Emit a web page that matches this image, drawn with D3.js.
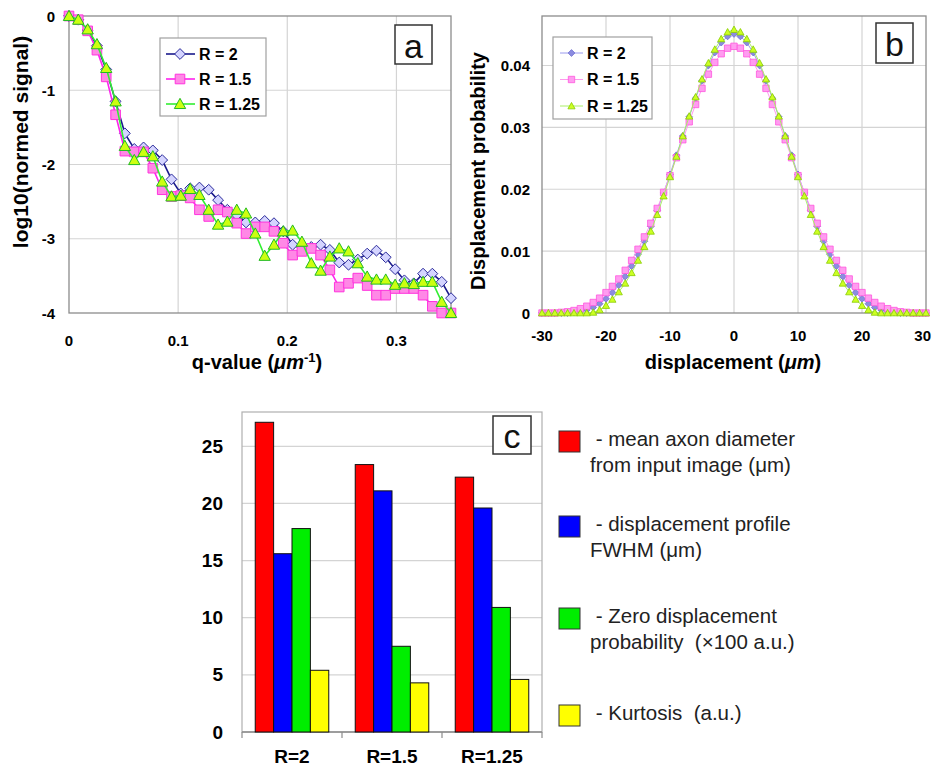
<!DOCTYPE html>
<html>
<head>
<meta charset="utf-8">
<script src="https://cdn.jsdelivr.net/npm/d3@7"></script>
<style>
	body { margin:0; background:#fff; }
	svg { font-family: "Liberation Sans", Arial, sans-serif; }
</style>
</head>
<body>
<div id="chart"></div>
<script>

// ---- panel a : log10 signal vs q ----
var qValues = [0, 0.0085, 0.0171, 0.0256, 0.0341, 0.0427, 0.0512, 0.0598, 0.0683, 0.0768,
	0.0854, 0.0939, 0.1024, 0.1110, 0.1195, 0.1280, 0.1366, 0.1451, 0.1537, 0.1622,
	0.1707, 0.1793, 0.1878, 0.1963, 0.2049, 0.2134, 0.2220, 0.2305, 0.2390, 0.2476,
	0.2561, 0.2646, 0.2732, 0.2817, 0.2902, 0.2988, 0.3073, 0.3159, 0.3244, 0.3329,
	0.3415, 0.3500];
var signalR2 = [0, -0.05, -0.19, -0.40, -0.72, -1.15, -1.58, -1.79, -1.77, -1.81,
	-1.94, -2.20, -2.39, -2.32, -2.31, -2.34, -2.48, -2.61, -2.68, -2.78,
	-2.78, -2.76, -2.79, -2.90, -3.08, -3.11, -3.11, -3.08, -3.15, -3.32,
	-3.35, -3.28, -3.20, -3.16, -3.25, -3.41, -3.56, -3.60, -3.47, -3.47,
	-3.58, -3.80];
var signalR15 = [0, -0.05, -0.20, -0.46, -0.82, -1.33, -1.82, -1.83, -1.83, -2.05,
	-2.34, -2.43, -2.42, -2.45, -2.61, -2.70, -2.61, -2.64, -2.79, -2.93,
	-2.84, -2.84, -2.90, -3.06, -3.22, -3.17, -3.13, -3.22, -3.42, -3.65,
	-3.60, -3.53, -3.63, -3.76, -3.76, -3.67, -3.67, -3.67, -3.76, -3.91,
	-4.00, -4.00];
var signalR125 = [0, -0.05, -0.18, -0.38, -0.70, -1.15, -1.75, -1.94, -1.83, -1.89,
	-2.23, -2.43, -2.42, -2.33, -2.41, -2.61, -2.81, -2.77, -2.61, -2.66,
	-2.93, -3.23, -3.08, -2.90, -2.89, -3.04, -3.33, -3.43, -3.24, -3.13,
	-3.17, -3.33, -3.51, -3.55, -3.55, -3.62, -3.60, -3.61, -3.58, -3.58,
	-3.85, -4.00];
var qTicks = [0, 0.1, 0.2, 0.3];
var signalTicks = [0, -1, -2, -3, -4];

// ---- panel b : displacement profiles ----
var dispValues = [-30, -29, -28, -27, -26, -25, -24, -23, -22, -21, -20, -19, -18, -17, -16, -15,
	-14, -13, -12, -11, -10, -9, -8, -7, -6, -5, -4, -3, -2, -1, 0, 1, 2, 3, 4, 5, 6, 7, 8, 9,
	10, 11, 12, 13, 14, 15, 16, 17, 18, 19, 20, 21, 22, 23, 24, 25, 26, 27, 28, 29, 30];
var probR2 = [0, 0, 0, 0, 0, 0.0001, 0.0003, 0.0005, 0.0009, 0.0015, 0.0023, 0.0033, 0.0045, 0.0059, 0.0076, 0.0095,
	0.0116, 0.0140, 0.0166, 0.0194, 0.0224, 0.0255, 0.0286, 0.0317, 0.0347, 0.0375, 0.0400, 0.0421, 0.0437, 0.0447,
	0.0451,
	0.0447, 0.0437, 0.0421, 0.0400, 0.0375, 0.0347, 0.0317, 0.0286, 0.0255, 0.0224, 0.0194, 0.0166, 0.0140, 0.0116,
	0.0095, 0.0076, 0.0059, 0.0045, 0.0033, 0.0023, 0.0015, 0.0009, 0.0005, 0.0003, 0.0001, 0, 0, 0, 0, 0];
var probR15 = [0, 0, 0, 0.0001, 0.0002, 0.0004, 0.0007, 0.0011, 0.0017, 0.0024, 0.0033, 0.0043, 0.0055, 0.0069, 0.0085, 0.0103,
	0.0123, 0.0145, 0.0169, 0.0195, 0.0222, 0.0251, 0.0280, 0.0309, 0.0337, 0.0363, 0.0386, 0.0405, 0.0419, 0.0428,
	0.0431,
	0.0428, 0.0419, 0.0405, 0.0386, 0.0363, 0.0337, 0.0309, 0.0280, 0.0251, 0.0222, 0.0195, 0.0169, 0.0145, 0.0123,
	0.0103, 0.0085, 0.0069, 0.0055, 0.0043, 0.0033, 0.0024, 0.0017, 0.0011, 0.0007, 0.0004, 0.0002, 0.0001, 0, 0, 0];
var probR125 = [0, 0, 0, 0, 0, 0, 0, 0, 0.0001, 0.0005, 0.0012, 0.0022, 0.0034, 0.0048, 0.0065, 0.0085,
	0.0107, 0.0132, 0.0159, 0.0189, 0.0220, 0.0253, 0.0286, 0.0318, 0.0349, 0.0378, 0.0404, 0.0426, 0.0443, 0.0454,
	0.0458,
	0.0454, 0.0443, 0.0426, 0.0404, 0.0378, 0.0349, 0.0318, 0.0286, 0.0253, 0.0220, 0.0189, 0.0159, 0.0132, 0.0107,
	0.0085, 0.0065, 0.0048, 0.0034, 0.0022, 0.0012, 0.0005, 0.0001, 0, 0, 0, 0, 0, 0, 0, 0];
var dispTicks = [-30, -20, -10, 0, 10, 20, 30];
var probTicks = [0, 0.01, 0.02, 0.03, 0.04];

// ---- panel c : bar chart ----
var categories = ["R=2", "R=1.5", "R=1.25"];
var measureNames = ["axon", "fwhm", "zero", "kurt"];
var axonDiameter = [27.1, 23.4, 22.3];
var profileFWHM = [15.6, 21.1, 19.6];
var zeroDispProb = [17.8, 7.5, 10.9];
var kurtosis = [5.4, 4.3, 4.6];
var barTicks = [0, 5, 10, 15, 20, 25];
var legendLines = [
	[" - mean axon diameter", "from input image (\u03bcm)"],
	[" - displacement profile", "FWHM (\u03bcm)"],
	[" - Zero displacement", "probability  (\u00d7100 a.u.)"],
	[" - Kurtosis  (a.u.)"]
];
var seriesNames = ["R = 2", "R = 1.5", "R = 1.25"];


var svg = d3.select("#chart").append("svg")
	.attr("width", 932)
	.attr("height", 768);

var gridColor = "#d4d4d4";
var frameColor = "#8c8c8c";

function markerPath(kind, s){
	if(kind == "diamond"){
		return "M0," + (-s) + "L" + s + ",0L0," + s + "L" + (-s) + ",0Z";
	} else if(kind == "square"){
		return "M" + (-s) + "," + (-s) + "h" + (2*s) + "v" + (2*s) + "h" + (-2*s) + "Z";
	}
	var h = s * 1.05;
	return "M0," + (-h) + "L" + (s*1.05) + "," + (h*0.8) + "L" + (-s*1.05) + "," + (h*0.8) + "Z";
}

function drawFrame(g, x, y, xTicks, yTicks, left, right, top, bottom){
	g.append("g").selectAll("line.vg").data(xTicks).enter().append("line")
		.attr("x1", function(d){ return x(d); }).attr("x2", function(d){ return x(d); })
		.attr("y1", top).attr("y2", bottom)
		.attr("stroke", gridColor).attr("stroke-width", 1.2);
	g.append("g").selectAll("line.hg").data(yTicks).enter().append("line")
		.attr("x1", left).attr("x2", right)
		.attr("y1", function(d){ return y(d); }).attr("y2", function(d){ return y(d); })
		.attr("stroke", gridColor).attr("stroke-width", 1.2);
	g.append("rect")
		.attr("x", left).attr("y", top)
		.attr("width", right - left).attr("height", bottom - top)
		.attr("fill", "none").attr("stroke", frameColor).attr("stroke-width", 1.3);
}

function labelBox(x0, y0, w, h, txt){
	svg.append("rect").attr("x", x0).attr("y", y0).attr("width", w).attr("height", h)
		.attr("fill", "#fff").attr("stroke", "#333").attr("stroke-width", 1.5);
	svg.append("text").attr("x", x0 + w/2).attr("y", y0 + h/2 + 1)
		.attr("text-anchor", "middle").attr("dominant-baseline", "central")
		.attr("font-size", 34).attr("fill", "#111").text(txt);
}


// ================= panel a =================
var ax = d3.scaleLinear().domain([0, 0.35]).range([69, 451]);
var ay = d3.scaleLinear().domain([0, -4]).range([16, 313]);
var ga = svg.append("g");
drawFrame(ga, ax, ay, [0.1, 0.2, 0.3], [-1, -2, -3], 69, 451, 16, 313);

ga.append("g").selectAll("text").data(qTicks).enter().append("text")
	.attr("x", function(d){ return ax(d); }).attr("y", 346)
	.attr("text-anchor", "middle").attr("font-size", 15).attr("font-weight", "bold")
	.text(function(d){ return d; });
ga.append("g").selectAll("text").data(signalTicks).enter().append("text")
	.attr("x", 55).attr("y", function(d){ return ay(d); })
	.attr("text-anchor", "end").attr("dominant-baseline", "central")
	.attr("font-size", 15).attr("font-weight", "bold")
	.text(function(d){ return d; });

var qTitle = ga.append("text").attr("x", 257).attr("y", 369)
	.attr("text-anchor", "middle").attr("font-size", 20).attr("font-weight", "bold");
qTitle.append("tspan").text("q-value (");
qTitle.append("tspan").attr("font-style", "italic").text("\u03bcm");
qTitle.append("tspan").attr("font-size", 13).attr("dy", -7).text("-1");
qTitle.append("tspan").attr("dy", 7).text(")");

ga.append("text").attr("transform", "translate(28,142) rotate(-90)")
	.attr("text-anchor", "middle").attr("font-size", 21).attr("font-weight", "bold")
	.text("log10(normed signal)");

var aSeries = [
	{ vals: signalR2, line: "#1a1a8c", fill: "#d4d4ff", stroke: "#2a2a9a", kind: "diamond", s: 5.4 },
	{ vals: signalR15, line: "#ff22ee", fill: "#ff88e6", stroke: "#ff33dd", kind: "square", s: 4.8 },
	{ vals: signalR125, line: "#33ee33", fill: "#ccff11", stroke: "#22bb22", kind: "triangle", s: 5.4 }
];

aSeries.forEach(function(ser){
	var line = d3.line()
		.x(function(d, i){ return ax(qValues[i]); })
		.y(function(d){ return ay(d); });
	ga.append("path").datum(ser.vals)
		.attr("d", line).attr("fill", "none")
		.attr("stroke", ser.line).attr("stroke-width", 1.6);
	ga.append("g").selectAll("path").data(ser.vals).enter().append("path")
		.attr("transform", function(d, i){ return "translate(" + ax(qValues[i]) + "," + ay(d) + ")"; })
		.attr("d", markerPath(ser.kind, ser.s))
		.attr("fill", ser.fill).attr("stroke", ser.stroke).attr("stroke-width", 1);
});

// legend a
svg.append("rect").attr("x", 160).attr("y", 38).attr("width", 106).attr("height", 78)
	.attr("fill", "#fff").attr("stroke", "#a0a0a0").attr("stroke-width", 1.2);
aSeries.forEach(function(ser, i){
	var yy = 54 + i * 25;
	svg.append("line").attr("x1", 166).attr("x2", 195).attr("y1", yy).attr("y2", yy)
		.attr("stroke", ser.line).attr("stroke-width", 1.6);
	svg.append("path").attr("transform", "translate(180," + yy + ")")
		.attr("d", markerPath(ser.kind, ser.s))
		.attr("fill", ser.fill).attr("stroke", ser.stroke).attr("stroke-width", 1);
	svg.append("text").attr("x", 199).attr("y", yy).attr("dominant-baseline", "central")
		.attr("font-size", 16).attr("font-weight", "bold").text(seriesNames[i]);
});
labelBox(395, 25, 37, 39, "a");


// ================= panel b =================
var bx = d3.scaleLinear().domain([-30, 30]).range([542, 926]);
var by = d3.scaleLinear().domain([0, 0.048]).range([313, 16]);
var gb = svg.append("g");
drawFrame(gb, bx, by, [-20, -10, 0, 10, 20], [0.01, 0.02, 0.03, 0.04], 542, 926, 16, 313);

// last label sits at the window edge, so it is pulled in a little
gb.append("g").selectAll("text").data(dispTicks).enter().append("text")
	.attr("x", function(d, i){ return i == dispTicks.length - 1 ? 931 : bx(d); }).attr("y", 341)
	.attr("text-anchor", function(d, i){ return i == dispTicks.length - 1 ? "end" : "middle"; })
	.attr("font-size", 15).attr("font-weight", "bold")
	.text(function(d){ return d; });
gb.append("g").selectAll("text").data(probTicks).enter().append("text")
	.attr("x", 530).attr("y", function(d){ return by(d); })
	.attr("text-anchor", "end").attr("dominant-baseline", "central")
	.attr("font-size", 15).attr("font-weight", "bold")
	.text(function(d){ return d; });

var dTitle = gb.append("text").attr("x", 733).attr("y", 369)
	.attr("text-anchor", "middle").attr("font-size", 20).attr("font-weight", "bold");
dTitle.append("tspan").text("displacement (");
dTitle.append("tspan").attr("font-style", "italic").text("\u03bcm");
dTitle.append("tspan").text(")");

gb.append("text").attr("transform", "translate(485,171) rotate(-90)")
	.attr("text-anchor", "middle").attr("font-size", 20).attr("font-weight", "bold")
	.text("Displacement probability");

var bSeries = [
	{ vals: probR2, line: "#9a9aee", fill: "#8c8ce0", stroke: "#6e6ed0", kind: "diamond", s: 3.4 },
	{ vals: probR15, line: "#ff99ee", fill: "#ff9cf0", stroke: "#ff55dd", kind: "square", s: 3.2 },
	{ vals: probR125, line: "#aaee66", fill: "#ccff22", stroke: "#88cc00", kind: "triangle", s: 3.4 }
];

bSeries.forEach(function(ser){
	var line = d3.line()
		.x(function(d, i){ return bx(dispValues[i]); })
		.y(function(d){ return by(d); });
	gb.append("path").datum(ser.vals)
		.attr("d", line).attr("fill", "none")
		.attr("stroke", ser.line).attr("stroke-width", 1);
	gb.append("g").selectAll("path").data(ser.vals).enter().append("path")
		.attr("transform", function(d, i){ return "translate(" + bx(dispValues[i]) + "," + by(d) + ")"; })
		.attr("d", markerPath(ser.kind, ser.s))
		.attr("fill", ser.fill).attr("stroke", ser.stroke).attr("stroke-width", 0.8);
});

// legend b
svg.append("rect").attr("x", 553).attr("y", 37).attr("width", 99).attr("height", 82)
	.attr("fill", "#fff").attr("stroke", "#a0a0a0").attr("stroke-width", 1.2);
bSeries.forEach(function(ser, i){
	var yy = 53 + i * 26.5;
	svg.append("line").attr("x1", 560).attr("x2", 583).attr("y1", yy).attr("y2", yy)
		.attr("stroke", ser.line).attr("stroke-width", 1);
	svg.append("path").attr("transform", "translate(571.5," + yy + ")")
		.attr("d", markerPath(ser.kind, ser.s))
		.attr("fill", ser.fill).attr("stroke", ser.stroke).attr("stroke-width", 0.8);
	svg.append("text").attr("x", 587).attr("y", yy).attr("dominant-baseline", "central")
		.attr("font-size", 16).attr("font-weight", "bold").text(seriesNames[i]);
});
labelBox(876, 23, 37, 40, "b");


// ================= panel c =================
var barData = categories.map(function(c, i){
	return { cat: c, vals: [axonDiameter[i], profileFWHM[i], zeroDispProb[i], kurtosis[i]] };
});
var barColors = ["#ff0000", "#0000ff", "#00ee00", "#ffff00"];

var cx0 = d3.scaleBand().domain(categories).range([242, 542]).padding(0);
var cx1 = d3.scaleBand().domain(measureNames).range([0, cx0.bandwidth()]).paddingInner(0).paddingOuter(0.72);
var cy = d3.scaleLinear().domain([0, 28]).range([732, 412]);
var gc = svg.append("g");

gc.append("g").selectAll("line").data(barTicks.slice(1)).enter().append("line")
	.attr("x1", 242).attr("x2", 542)
	.attr("y1", function(d){ return cy(d); }).attr("y2", function(d){ return cy(d); })
	.attr("stroke", gridColor).attr("stroke-width", 1.2);
gc.append("rect").attr("x", 242).attr("y", 412).attr("width", 300).attr("height", 320)
	.attr("fill", "none").attr("stroke", "#b0b0b0").attr("stroke-width", 1.2);
gc.append("line").attr("x1", 242).attr("x2", 542).attr("y1", 732).attr("y2", 732)
	.attr("stroke", frameColor).attr("stroke-width", 1.4);
gc.append("g").selectAll("line").data(categories.concat(["end"])).enter().append("line")
	.attr("x1", function(d, i){ return 242 + i * cx0.step(); })
	.attr("x2", function(d, i){ return 242 + i * cx0.step(); })
	.attr("y1", 732).attr("y2", 738)
	.attr("stroke", frameColor).attr("stroke-width", 1.2);

gc.append("g").selectAll("text").data(barTicks).enter().append("text")
	.attr("x", 223).attr("y", function(d){ return cy(d); })
	.attr("text-anchor", "end").attr("dominant-baseline", "central")
	.attr("font-size", 19).attr("font-weight", "bold")
	.text(function(d){ return d; });
gc.append("g").selectAll("text").data(categories).enter().append("text")
	.attr("x", function(d){ return cx0(d) + cx0.bandwidth()/2; }).attr("y", 763)
	.attr("text-anchor", "middle").attr("font-size", 19).attr("font-weight", "bold")
	.text(function(d){ return d; });

var groups = gc.append("g").selectAll("g").data(barData).enter().append("g")
	.attr("transform", function(d){ return "translate(" + cx0(d.cat) + ",0)"; });
groups.selectAll("rect").data(function(d){ return d.vals; }).enter().append("rect")
	.attr("x", function(d, i){ return cx1(measureNames[i]); })
	.attr("y", function(d){ return cy(d); })
	.attr("width", cx1.bandwidth())
	.attr("height", function(d){ return cy(0) - cy(d); })
	.attr("fill", function(d, i){ return barColors[i]; })
	.attr("stroke", "#111").attr("stroke-width", 1);

labelBox(493, 416, 38, 38, "c");

// legend c
var legTop = [431, 516, 608, 705];
legendLines.forEach(function(lines, i){
	svg.append("rect").attr("x", 559).attr("y", legTop[i]).attr("width", 21).attr("height", 21)
		.attr("fill", barColors[i]).attr("stroke", "#333").attr("stroke-width", 1);
	lines.forEach(function(t, j){
		svg.append("text").attr("x", 590).attr("y", legTop[i] + 15 + j * 26)
			.attr("font-size", 20.5).attr("fill", "#222")
			.attr("xml:space", "preserve").style("white-space", "pre")
			.text(t);
	});
});

</script>
</body>
</html>
